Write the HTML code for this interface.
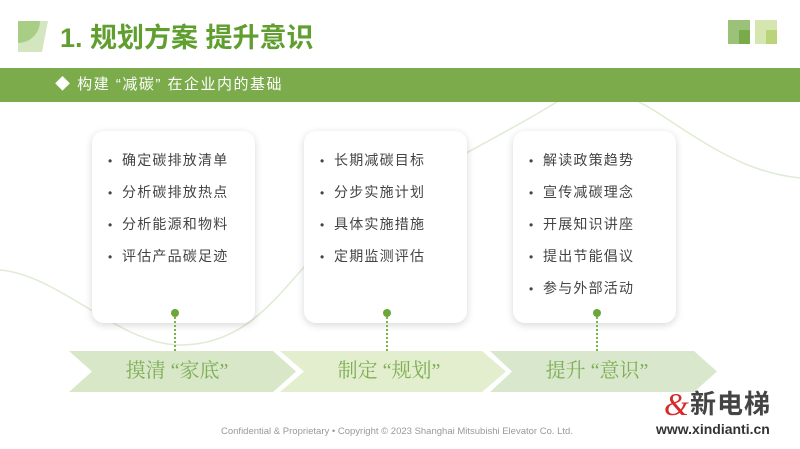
<!DOCTYPE html>
<html><head><meta charset="utf-8"><style>
body{margin:0;width:800px;height:449px;overflow:hidden;background:#fff;font-family:"Liberation Sans","Noto Sans CJK SC",sans-serif;position:relative}
.abs{position:absolute}
.card{position:absolute;top:131px;width:163px;height:192px;background:#fff;border-radius:12px;box-shadow:0 2px 8px rgba(0,0,0,0.16)}
.card ul{margin:0;padding:0;list-style:none;position:absolute;top:18px;left:16px}
.card li{font-size:14px;color:#444;height:32px;line-height:22px;letter-spacing:1.2px}
.card li:before{content:"•";display:inline-block;width:14px;font-size:12px}
.dot{position:absolute;width:8px;height:8px;border-radius:50%;background:#6aa63a;top:309px}
.vl{position:absolute;top:317px;height:34px;border-left:2px dotted #7ab34a}
.chv{position:absolute;top:351px;height:41px;line-height:41px;text-align:center;font-family:"Liberation Serif","Noto Serif CJK SC",serif;font-size:20px;color:#7fae55;white-space:pre}
</style></head><body>
<svg class="abs" style="left:0;top:0" width="800" height="449">
<path d="M0,270 C60,275 120,345 180,345 C250,345 280,290 320,250 C400,180 480,150 560,100 C610,70 650,110 700,140 C740,165 770,175 800,178" fill="none" stroke="#e0ebd3" stroke-width="1.5"/>
<path d="M18,21 L48,21 L42,52 L18,52 Z" fill="#d3e6c0"/>
<path d="M18,21 L40,21 A22,22 0 0 1 18,43 Z" fill="#a8cd85"/>
<rect x="728" y="20" width="22" height="24" fill="#9cc27a"/><rect x="739" y="30" width="11" height="14" fill="#7aab4a"/>
<rect x="755" y="20" width="22" height="24" fill="#d5e6b0"/><rect x="766" y="30" width="11" height="14" fill="#b9d47a"/>
<polygon points="69,351 273,351 296,371.5 273,392 69,392 92,371.5" fill="#d7e7c8"/>
<polygon points="280,351 482,351 506,371.5 482,392 280,392 304,371.5" fill="#e2eecd"/>
<polygon points="490,351 694,351 717,371.5 694,392 490,392 512,371.5" fill="#d9e8cd"/>
</svg>
<div class="abs" style="left:60px;top:21px;font-size:27px;font-weight:bold;color:#5f9e2f;line-height:34px">1. 规划方案 提升意识</div>
<div class="abs" style="left:0;top:68px;width:800px;height:34px;background:#7bab4b"></div>
<div class="abs" style="left:55px;top:68px;line-height:34px;color:#fff;font-size:15px;letter-spacing:1.5px;white-space:pre">◆ 构建 “减碳” 在企业内的基础</div>
<div class="card" style="left:92px"><ul><li>确定碳排放清单</li><li>分析碳排放热点</li><li>分析能源和物料</li><li>评估产品碳足迹</li></ul></div>
<div class="card" style="left:304px"><ul><li>长期减碳目标</li><li>分步实施计划</li><li>具体实施措施</li><li>定期监测评估</li></ul></div>
<div class="card" style="left:513px"><ul><li>解读政策趋势</li><li>宣传减碳理念</li><li>开展知识讲座</li><li>提出节能倡议</li><li>参与外部活动</li></ul></div>
<div class="dot" style="left:171px"></div><div class="vl" style="left:174px"></div>
<div class="dot" style="left:383px"></div><div class="vl" style="left:386px"></div>
<div class="dot" style="left:593px"></div><div class="vl" style="left:596px"></div>
<div class="chv" style="left:92px;width:170px">摸清 “家底”</div>
<div class="chv" style="left:304px;width:170px">制定 “规划”</div>
<div class="chv" style="left:512px;width:170px">提升 “意识”</div>
<div class="abs" style="left:0;width:794px;top:426px;text-align:center;font-size:9.5px;color:#999">Confidential &amp; Proprietary • Copyright © 2023 Shanghai Mitsubishi Elevator Co. Ltd.</div>
<div class="abs" style="left:664px;top:387px;font-size:32px;font-style:italic;color:#d82828;font-family:'Liberation Serif',serif;line-height:34px">&amp;</div>
<div class="abs" style="left:690px;top:388px;font-size:26px;color:#444;font-weight:bold;line-height:32px;letter-spacing:1px">新电梯</div>
<div class="abs" style="left:656px;top:421px;font-size:14px;color:#333;font-weight:bold;line-height:16px">www.xindianti.cn</div>
</body></html>
